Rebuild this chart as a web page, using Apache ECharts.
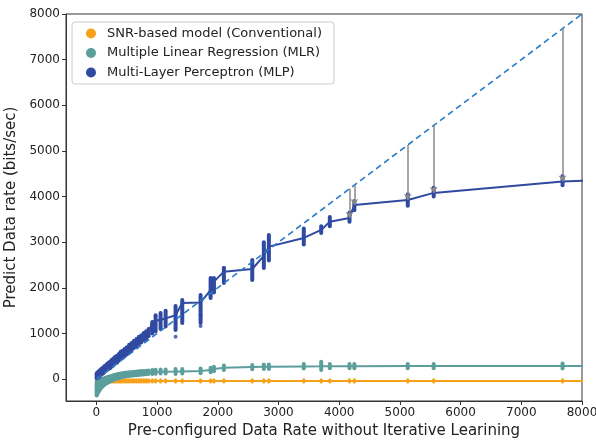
<!DOCTYPE html>
<html><head><meta charset="utf-8">
<script src="https://cdn.jsdelivr.net/npm/echarts@6/dist/echarts.min.js"></script>
<style>html,body{margin:0;padding:0;background:#fff}#c{width:596px;height:441px}</style>
</head><body><div id="c"></div>
<script>
// ---- data ----
const tickVals = [0,1000,2000,3000,4000,5000,6000,7000,8000];
const rates   = [5,15,25,40,55,70,90,110,130,150,175,200,225,250,280,310,340,370,400,430,465,500,540,580,620,660,700,740,780,820,860,
                 921,976,1058,1141,1305,1415,1717,1882,1937,2101,2568,2759,2842,3417,3704,3846,4170,4250,5130,5557,7680,8300];
const mlpMean = [70,85,90,110,120,150,170,180,215,230,270,290,310,350,380,420,440,480,520,540,590,620,670,700,760,800,850,880,930,960,1020,
                 1250,1280,1300,1330,1400,1667,1680,1950,2135,2354,2413,2700,2903,3093,3268,3450,3531,3817,3926,4080,4328,4360];
const mlpLow  = [20,30,40,50,60,90,110,120,150,170,200,220,240,270,300,340,360,400,440,460,500,540,590,620,680,720,770,800,850,880,940,
                 1000,1050,1100,1150,1075,1228,1228,1776,1900,2106,2172,2435,2600,2950,3200,3350,3450,3700,3800,4000,4250,null];
const mlpHigh = [120,140,150,170,180,210,230,250,280,300,330,360,380,420,450,490,510,550,600,620,660,700,750,790,840,880,930,960,1010,1050,1100,
                 1250,1400,1450,1500,1600,1733,1842,2215,2215,2435,2610,3000,3159,3300,3350,3550,3650,3900,4050,4200,4450,null];
const mlrMean = [-220,-190,-170,-150,-130,-110,-90,-70,-55,-40,-25,-10,5,20,35,50,60,70,80,88,95,102,110,115,120,125,130,135,140,143,147,
                 155,158,160,163,165,168,180,200,220,250,265,270,272,278,280,282,283,284,285,285,285,285];
const mlrLow  = [-360,-330,-300,-270,-240,-210,-180,-150,-130,-110,-90,-70,-50,-40,-20,0,10,20,35,45,50,60,70,75,80,85,90,95,100,105,110,
                 110,115,120,120,110,120,130,150,170,200,215,220,220,230,200,240,240,240,240,240,230,null];
const mlrHigh = [-60,-40,-40,-30,-20,-10,0,10,20,30,40,50,60,70,85,95,105,115,125,130,140,145,150,155,160,165,170,175,180,185,190,
                 200,205,210,210,220,220,230,250,270,300,310,320,320,330,380,330,330,330,330,330,340,null];
const snrVal  = [-40,-40,-40,-40,-40,-40,-40,-40,-40,-40,-40,-40,-40,-40,-40,-40,-40,-40,-40,-40,-40,-40,-40,-40,-40,-40,-40,-40,-40,-40,-40,
                 -40,-40,-40,-40,-40,-40,-40,-40,-40,-40,-40,-40,-40,-40,-40,-40,-40,-40,-40,-40,-40,-40];
const mlpOutliers = [[1305,928],[1717,1163],[1717,1404],[2101,2435]];
const arrowRates = [4170,4250,5130,5557,7680];
const arrowPred  = [3531,3817,3926,4080,4328];
const idealLine  = [[0,0],[8000,8000]];
const names = ['SNR-based model (Conventional)','Multiple Linear Regression (MLR)','Multi-Layer Perceptron (MLP)'];

// ---- chart ----
const C_SNR = '#f7a11a', C_MLR = '#5b9e9c', C_MLP = '#3049a1', C_IDEAL = '#2a7bc4';
const chart = echarts.init(document.getElementById('c'));
function colSeries(name, color, lows, highs, width) {
  const data = [];
  rates.forEach((x,i)=>{ if (lows[i] != null) data.push([x, lows[i], highs[i]]); });
  return {
    type:'custom', name, color, data, clip:true, z:4, silent:true,
    encode:{x:0, y:[1,2]},
    renderItem(params, api){
      const a = api.coord([api.value(0), api.value(1)]);
      const b = api.coord([api.value(0), api.value(2)]);
      return {type:'line', shape:{x1:a[0],y1:a[1],x2:b[0],y2:b[1]},
              style:{stroke:color, lineWidth:width, lineCap:'round'}};
    }
  };
}
const lineOf = (ys) => rates.map((x,i)=>[x, ys[i]]);
const font = 'DejaVu Sans';
const fmt = (v) => String(v);
chart.setOption({
  animation:false,
  grid:{left:66, right:14, top:14, bottom:40, containLabel:false, outerBoundsMode:'none',
        show:true, borderColor:'#333', borderWidth:1, backgroundColor:'transparent'},
  legend:{
    left:72, top:22, orient:'vertical', icon:'circle', itemWidth:10, itemHeight:10, itemGap:6.5,
    padding:[5,12,5,14], borderColor:'#ccc', borderWidth:1, borderRadius:3, backgroundColor:'#fff',
    textStyle:{fontFamily:font, fontSize:13, color:'#222', padding:[0,0,0,6]},
    data:names
  },
  xAxis:{
    type:'value', min:-500, max:8000,
    name:'Pre-configured Data Rate without Iterative Learining', nameLocation:'middle', nameGap:22,
    nameTextStyle:{fontFamily:font, fontSize:15, color:'#222'},
    axisLine:{show:true, onZero:false, lineStyle:{color:'#333'}},
    axisTick:{show:true, length:4, lineStyle:{color:'#333'}, customValues:tickVals},
    axisLabel:{fontFamily:font, fontSize:12, color:'#222', margin:6, customValues:tickVals, formatter:fmt},
    splitLine:{show:false}
  },
  yAxis:{
    type:'value', min:-480, max:8000,
    name:'Predict Data rate (bits/sec)', nameLocation:'middle', nameGap:38,
    nameTextStyle:{fontFamily:font, fontSize:15, color:'#222'},
    axisLine:{show:true, onZero:false, lineStyle:{color:'#333'}},
    axisTick:{show:true, length:4, lineStyle:{color:'#333'}, customValues:tickVals},
    axisLabel:{fontFamily:font, fontSize:12, color:'#222', margin:6, customValues:tickVals, formatter:fmt},
    splitLine:{show:false}
  },
  series:[
    {type:'line', name:names[0], color:C_SNR, data:lineOf(snrVal), showSymbol:false, lineStyle:{width:2, color:C_SNR}, z:3},
    {type:'line', name:names[1], color:C_MLR, data:lineOf(mlrMean), showSymbol:false, lineStyle:{width:2, color:C_MLR}, z:3},
    {type:'line', name:names[2], color:C_MLP, data:lineOf(mlpMean), showSymbol:false, lineStyle:{width:2, color:C_MLP}, z:3},
    colSeries(names[0], C_SNR, snrVal.map(v=>v-25), snrVal.map(v=>v+25), 3),
    colSeries(names[1], C_MLR, mlrLow, mlrHigh, 4),
    colSeries(names[2], C_MLP, mlpLow, mlpHigh, 4),
    {type:'scatter', name:names[2], color:C_MLP, data:mlpOutliers, symbolSize:4, itemStyle:{color:C_MLP}, z:4},
    {type:'line', name:'ideal', data:idealLine, showSymbol:false, lineStyle:{width:1.6, type:[6,4], color:C_IDEAL}, z:5},
    {type:'lines', coordinateSystem:'cartesian2d', name:'gap', z:6, symbol:['none','arrow'], symbolSize:6,
     lineStyle:{color:'#8a8a8a', width:1.5, opacity:1},
     data: arrowRates.map((x,i)=>({coords:[[x,x],[x,arrowPred[i]]]}))}
  ]
});
</script></body></html>
